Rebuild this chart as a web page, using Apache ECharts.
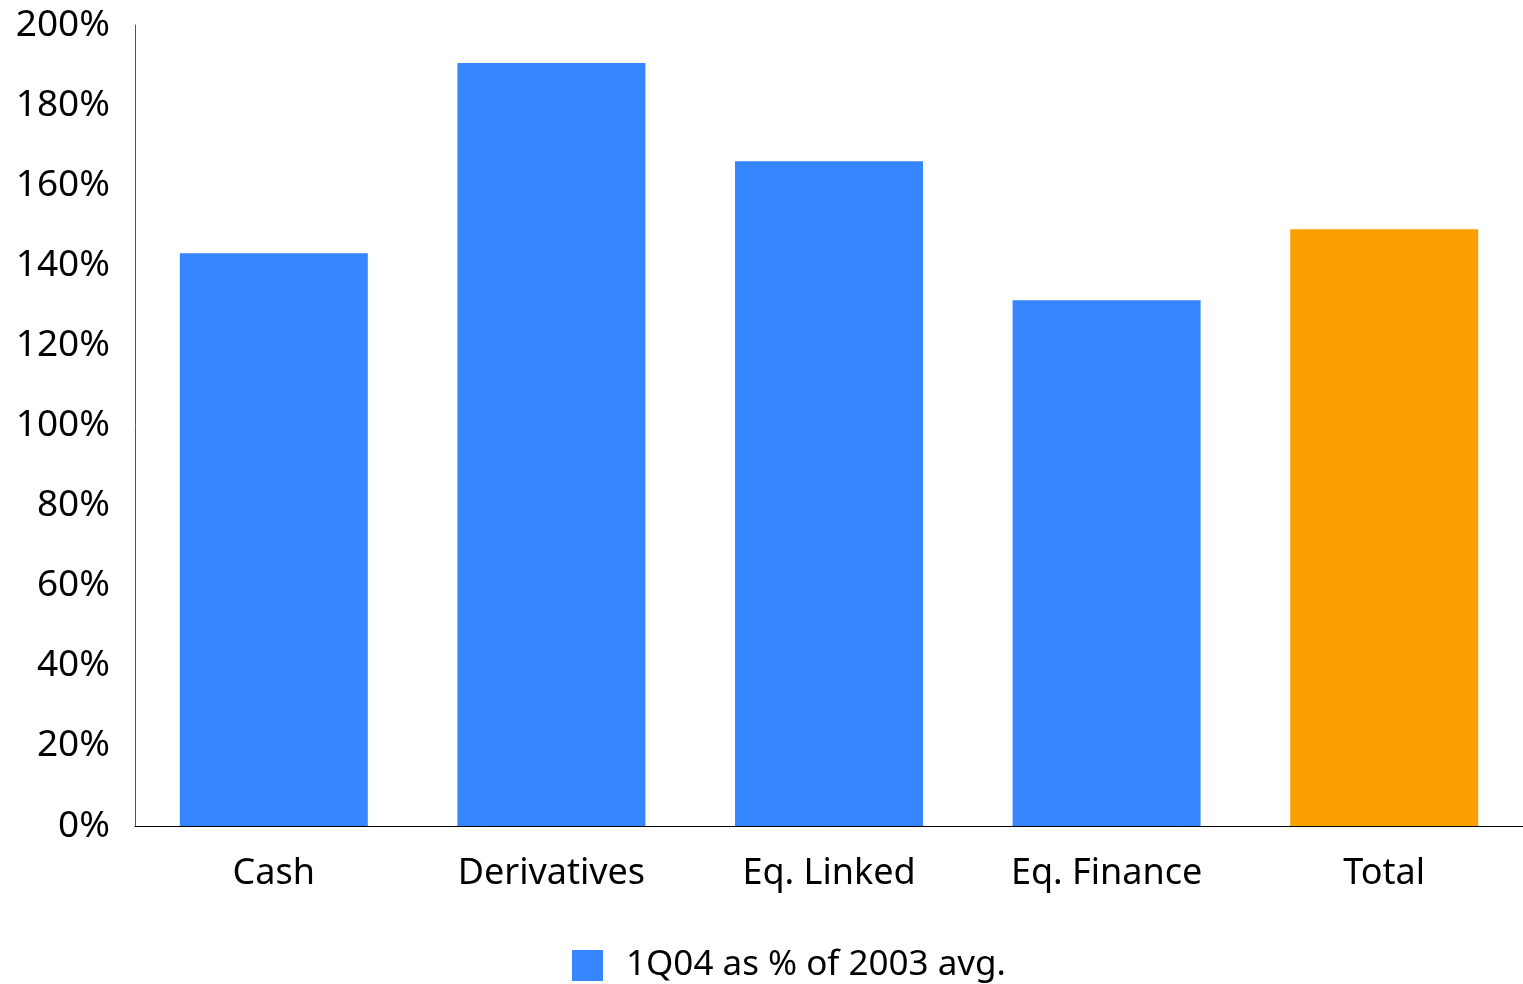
<!DOCTYPE html>
<html>
<head>
<meta charset="utf-8">
<script src="https://cdn.jsdelivr.net/npm/echarts@6/dist/echarts.min.js"></script>
<style>
  html, body { margin: 0; padding: 0; background: #fff; }
  #chart { width: 1523px; height: 984px; }
</style>
</head>
<body>
<div id="chart"></div>
<script>
// Business lines and their 1Q04 activity as a percent of the 2003 average
const categories = ['Cash', 'Derivatives', 'Eq. Linked', 'Eq. Finance', 'Total'];
const values = [143, 190.5, 166, 131.3, 149];
const seriesName = '1Q04 as % of 2003 avg.';
const yTicks = [0, 20, 40, 60, 80, 100, 120, 140, 160, 180, 200];

const BLUE = '#3686FF';
const ORANGE = '#FAA000';
const FONT = '"Noto Sans", "Open Sans", sans-serif';

const chart = echarts.init(document.getElementById('chart'));
chart.setOption({
  animation: false,
  textStyle: { fontFamily: FONT },
  grid: { left: 135, right: 0, top: 25, bottom: 158, containLabel: false },
  legend: {
    data: [{ name: seriesName, itemStyle: { color: BLUE } }],
    left: 567,
    top: 943,
    itemWidth: 31,
    itemHeight: 31,
    itemGap: 0,
    icon: 'rect',
    textStyle: { fontSize: 35, color: '#000', fontFamily: FONT, padding: [0, 0, 0, 18] }
  },
  xAxis: {
    type: 'category',
    data: categories,
    axisLine: { lineStyle: { color: '#000', width: 1 } },
    axisTick: { show: false },
    axisLabel: { color: '#000', fontSize: 36, margin: 30, fontFamily: FONT }
  },
  yAxis: {
    type: 'value',
    min: yTicks[0],
    max: yTicks[yTicks.length - 1],
    interval: 20,
    axisLine: { show: true, lineStyle: { color: '#555', width: 1 } },
    axisTick: { show: false },
    splitLine: { show: false },
    axisLabel: {
      color: '#000', fontSize: 37, margin: 25, fontFamily: FONT,
      padding: [10, 0, 0, 0],
      formatter: v => v + '%'
    }
  },
  series: [{
    name: seriesName,
    type: 'bar',
    barWidth: 188,
    itemStyle: { color: BLUE },
    data: values.map((v, i) => i === values.length - 1
      ? { value: v, itemStyle: { color: ORANGE } }
      : v)
  }]
});
</script>
</body>
</html>
